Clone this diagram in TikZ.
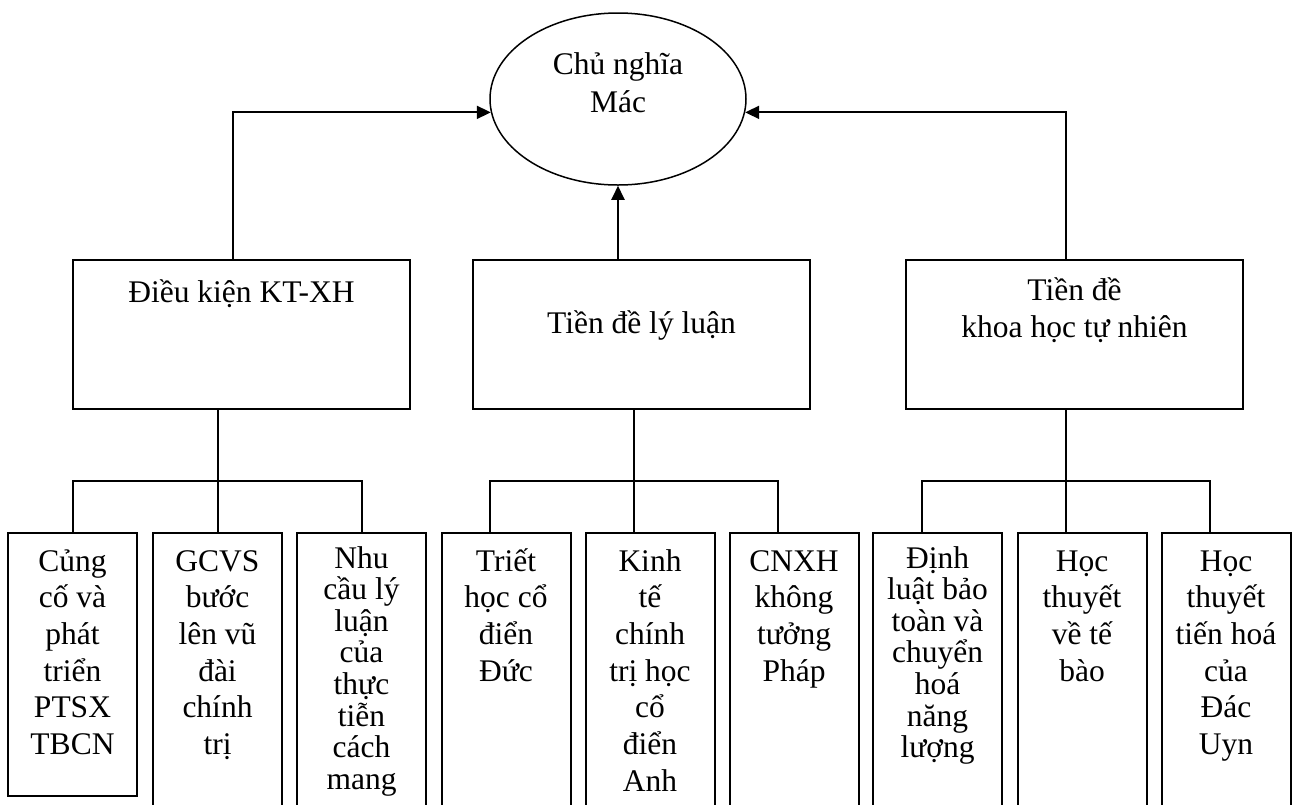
\documentclass[tikz,border=0pt]{standalone}
\usepackage{fontspec}
\setmainfont{Liberation Serif}
\usetikzlibrary{shapes.geometric,arrows.meta,calc}
\begin{document}
\begin{tikzpicture}[x=1pt,y=-1pt,
  ln/.style={line width=2pt},
  arr/.style={line width=2pt,-{Triangle[length=14pt,width=13pt]}},
  box/.style={draw,line width=2pt,minimum width=337pt,minimum height=149pt,inner sep=0pt,outer sep=0pt},
  leaf/.style={draw,line width=2pt,minimum width=129pt,minimum height=300pt,inner sep=0pt,outer sep=0pt,anchor=north},
  txt/.style={inner sep=0pt,anchor=base,font=\fontsize{31.5}{36.7}\selectfont},
  tight/.style={inner sep=0pt,anchor=base,font=\fontsize{31.5}{31.6}\selectfont}]
\useasboundingbox (0,0) rectangle (1296,804);
\clip (0,0) rectangle (1296,804);

% top
\node[ellipse,draw,line width=1.5pt,minimum width=256pt,minimum height=172pt,inner sep=0pt] (e) at (618,99) {};
\node[txt,font=\fontsize{31.5}{38}\selectfont] (te) at (618,74) {\parbox[t]{220pt}{\centering Chủ nghĩa\\Mác}};

% middle level
\node[box] (m1) at (241.5,334.5) {};
\node[box] (m2) at (641.5,334.5) {};
\node[box] (m3) at (1074.5,334.5) {};
\node[txt] (tm1) at (241.5,302) {Điều kiện KT-XH};
\node[txt] (tm2) at (641.5,333) {Tiền đề lý luận};
\node[txt,font=\fontsize{31.5}{37}\selectfont] (tm3) at (1074.5,300) {\parbox[t]{320pt}{\centering Tiền đề\\khoa học tự nhiên}};

% leaves
\node[leaf,minimum height=263pt] (b1) at (72.5,533) {};
\node[leaf] (b2) at (217.5,533) {};
\node[leaf] (b3) at (361.5,533) {};
\node[leaf] (b4) at (506,533) {};
\node[leaf] (b5) at (650,533) {};
\node[leaf] (b6) at (794,533) {};
\node[leaf] (b7) at (937.5,533) {};
\node[leaf] (b8) at (1082,533) {};
\node[leaf] (b9) at (1226,533) {};

\node[txt] (l1) at (72.5,571) {\parbox[t]{140pt}{\centering Củng\\cố và\\phát\\triển\\PTSX\\TBCN}};
\node[txt] (l2) at (217.5,571) {\parbox[t]{140pt}{\centering GCVS\\bước\\lên vũ\\đài\\chính\\trị}};
\node[tight] (l3) at (361.5,568) {\parbox[t]{140pt}{\centering Nhu\\cầu lý\\luận\\của\\thực\\tiễn\\cách\\mang}};
\node[txt] (l4) at (506,571) {\parbox[t]{140pt}{\centering Triết\\học cổ\\điển\\Đức}};
\node[txt] (l5) at (650,571) {\parbox[t]{140pt}{\centering Kinh\\tế\\chính\\trị học\\cổ\\điển\\Anh}};
\node[txt] (l6) at (794,571) {\parbox[t]{140pt}{\centering CNXH\\không\\tưởng\\Pháp}};
\node[tight] (l7) at (937.5,568) {\parbox[t]{140pt}{\centering Định\\luật bảo\\toàn và\\chuyển\\hoá\\năng\\lượng}};
\node[txt] (l8) at (1082,571) {\parbox[t]{140pt}{\centering Học\\thuyết\\về tế\\bào}};
\node[txt] (l9) at (1226,571) {\parbox[t]{140pt}{\centering Học\\thuyết\\tiến hoá\\của\\Đác\\Uyn}};

% arrows to the ellipse
\draw[arr] ($(m1.north)+(-8.5,0)$) |- (e.186);
\draw[arr] ($(m3.north)+(-8.5,0)$) |- (e.354);
\draw[arr] (m2.north -| e.south) -- (e.south);

% group 1
\coordinate (d2) at (b2.north);
\draw[ln] (m1.south -| d2) -- (d2);
\draw[ln] (b1.north) -- ++(0,-52) -| (b3.north);
% group 2
\coordinate (d4) at ($(b4.north)+(-16,0)$);
\coordinate (d5) at ($(b5.north)+(-16,0)$);
\coordinate (d6) at ($(b6.north)+(-16,0)$);
\draw[ln] (m2.south -| d5) -- (d5);
\draw[ln] (d4) -- ++(0,-52) -| (d6);
% group 3
\coordinate (d7) at ($(b7.north)+(-16,0)$);
\coordinate (d8) at ($(b8.north)+(-16,0)$);
\coordinate (d9) at ($(b9.north)+(-16,0)$);
\draw[ln] (m3.south -| d8) -- (d8);
\draw[ln] (d7) -- ++(0,-52) -| (d9);
\end{tikzpicture}
\end{document}
